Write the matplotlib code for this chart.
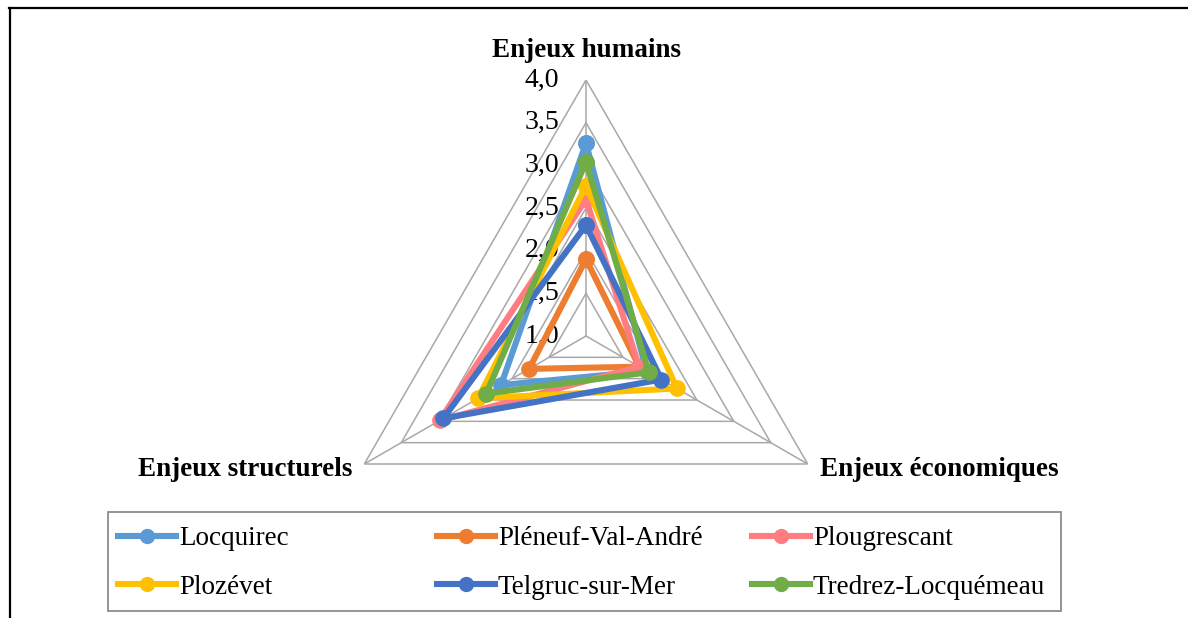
import numpy as np
import matplotlib
matplotlib.use('Agg')
import matplotlib.pyplot as plt
from matplotlib.transforms import offset_copy
from matplotlib.lines import Line2D
from matplotlib.patches import Rectangle

plt.rcParams['font.family'] = ['Liberation Serif', 'DejaVu Serif']

categories = ['Enjeux humains', 'Enjeux économiques', 'Enjeux structurels']
communes = ['Locquirec', 'Pléneuf-Val-André', 'Plougrescant',
            'Plozévet', 'Telgruc-sur-Mer', 'Tredrez-Locquémeau']
colors = ['#5B9BD5', '#ED7D31', '#FF7C80', '#FFC000', '#4472C4', '#70AD47']

# humains, economiques, structurels
locquirec = [3.26, 1.82, 2.15]
pleneuf = [1.90, 1.72, 1.77]
plougrescant = [2.60, 1.72, 2.98]
plozevet = [2.76, 2.23, 2.46]
telgruc = [2.30, 2.02, 2.93]
tredrez = [3.04, 1.85, 2.35]
series = [locquirec, pleneuf, plougrescant, plozevet, telgruc, tredrez]

ticks = [1.0, 1.5, 2.0, 2.5, 3.0, 3.5, 4.0]
tick_labels = ['1,0', '1,5', '2,0', '2,5', '3,0', '3,5', '4,0']

W, H = 1188, 618
fig = plt.figure(figsize=(W / 100, H / 100), dpi=100)

cx, cy, rad = 586, 336, 256
ax = fig.add_axes([(cx - rad) / W, (H - cy - rad) / H, 2 * rad / W, 2 * rad / H],
                  projection='polar')
ax.set_theta_offset(np.pi / 2)
ax.set_theta_direction(-1)
ax.set_ylim(1, 4)
ax.grid(False)
ax.spines['polar'].set_visible(False)
ax.set_xticks([])
ax.set_yticks([])
ax.patch.set_alpha(0)

angles = np.arange(3) * 2 * np.pi / 3
closed = np.append(angles, angles[0])

GRID = '#A8A8A8'
for t in ticks[1:]:
    ax.plot(closed, [t] * 4, color=GRID, lw=1.1, zorder=1)
for a in angles:
    ax.plot([a, a], [1, 4], color=GRID, lw=1.1, zorder=1)

for t, lab in zip(ticks, tick_labels):
    ax.text(0, t, lab, fontsize=20, ha='right', va='center', zorder=2,
            transform=offset_copy(ax.transData, fig, x=-27, y=0, units='dots'))

ax.text(angles[0], 4, categories[0], fontsize=19.5, fontweight='bold', ha='center', va='center',
        transform=offset_copy(ax.transData, fig, x=0, y=30, units='dots'))
ax.text(angles[1], 4, categories[1], fontsize=19.5, fontweight='bold', ha='left', va='center',
        transform=offset_copy(ax.transData, fig, x=12, y=-6, units='dots'))
ax.text(angles[2], 4, categories[2], fontsize=19.5, fontweight='bold', ha='right', va='center',
        transform=offset_copy(ax.transData, fig, x=-12, y=-6, units='dots'))

handles = []
for name, vals, col in zip(communes, series, colors):
    v = vals + vals[:1]
    h, = ax.plot(closed, v, color=col, lw=4.4, marker='o', markersize=11,
                 solid_joinstyle='miter', label=name, zorder=3, clip_on=False)
    handles.append(h)

# legend box, three columns of two rows
fig.add_artist(Rectangle((108 / W, (H - 611) / H), (1061 - 108) / W, 99 / H,
                         transform=fig.transFigure, fill=False, ec='#8C8C8C', lw=1.3))
col_x = [118, 437, 752]
for i in range(3):
    leg = fig.legend([handles[i], handles[i + 3]], [communes[i], communes[i + 3]],
                     loc='center left', bbox_to_anchor=(col_x[i] / W, (H - 563) / H),
                     frameon=False, fontsize=19.5, handlelength=2.15, handletextpad=0.1,
                     labelspacing=0.85, borderpad=0, borderaxespad=0, numpoints=1)
    for lh in leg.legend_handles:
        lh.set_markersize(10)

# outer frame of the chart area
fig.add_artist(Line2D([9.5 / W, 9.5 / W], [0, (H - 8) / H], color='black', lw=1.6,
                      transform=fig.transFigure))
fig.add_artist(Line2D([9 / W, 1], [(H - 8) / H, (H - 8) / H], color='black', lw=1.6,
                      transform=fig.transFigure))

fig.savefig('out.png', dpi=100)
